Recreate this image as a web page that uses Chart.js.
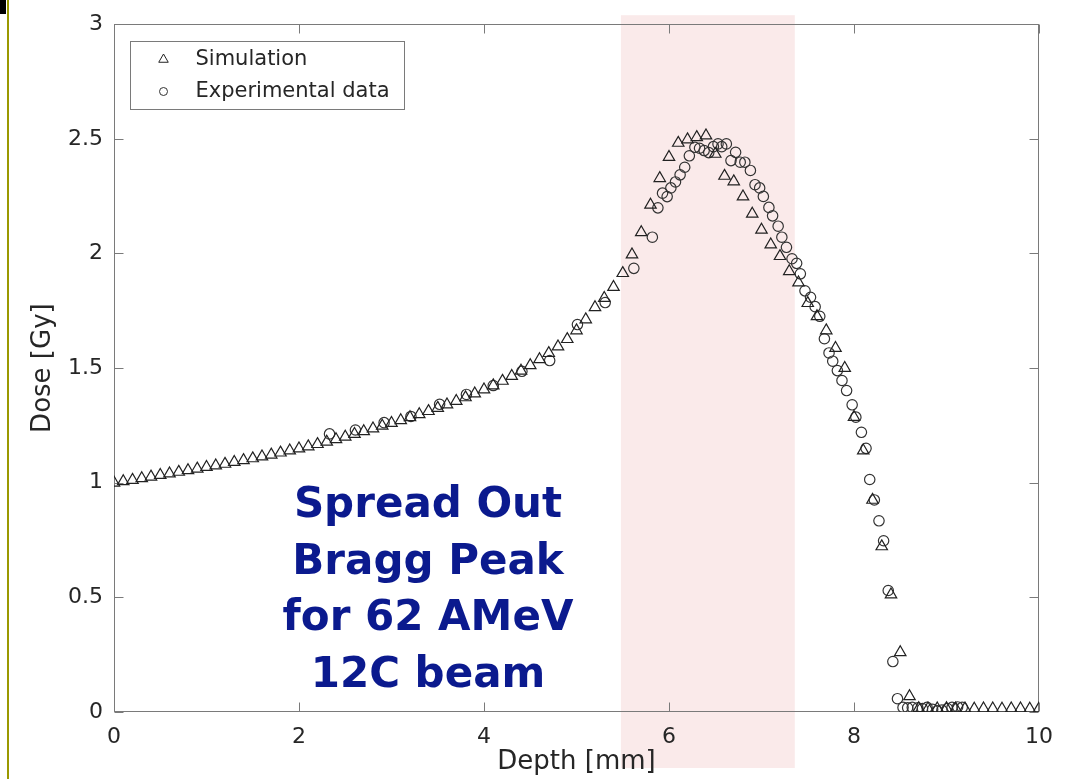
<!DOCTYPE html>
<html>
<head>
<meta charset="utf-8">
<script src="https://cdn.jsdelivr.net/npm/chart.js@4/dist/chart.umd.min.js"></script>
<style>
  body { margin: 0; background: #ffffff; }
  #wrap { position: relative; width: 1065px; height: 779px; overflow: hidden; background: #ffffff; }
  #chart { position: absolute; left: 0; top: 0; }
  .edge { position: absolute; left: 7px; top: 0; width: 2px; height: 779px; background: #9a9800; }
  .corner { position: absolute; left: 0; top: 0; width: 6px; height: 14px; background: #000000; }
  .note {
    position: absolute; left: 228px; top: 475px; width: 400px;
    text-align: center; font-family: "DejaVu Sans", sans-serif; font-weight: bold;
    font-size: 42px; line-height: 56.5px; color: #0b1a8e;
  }
</style>
</head>
<body>
<div id="wrap">
  <canvas id="chart" width="1065" height="779"></canvas>
  <div class="edge"></div>
  <div class="corner"></div>
  <div class="note">Spread Out<br>Bragg Peak<br>for 62 AMeV<br>12C beam</div>
</div>
<script>
// simulation: depth [mm] and dose [Gy]
const simDepth = [
  0.0, 0.1, 0.2, 0.3, 0.4, 0.5, 0.6, 0.7, 0.8, 0.9,
  1.0, 1.1, 1.2, 1.3, 1.4, 1.5, 1.6, 1.7, 1.8, 1.9,
  2.0, 2.1, 2.2, 2.3, 2.4, 2.5, 2.6, 2.7, 2.8, 2.9,
  3.0, 3.1, 3.2, 3.3, 3.4, 3.5, 3.6, 3.7, 3.8, 3.9,
  4.0, 4.1, 4.2, 4.3, 4.4, 4.5, 4.6, 4.7, 4.8, 4.9,
  5.0, 5.1, 5.2, 5.3, 5.4, 5.5, 5.6, 5.7, 5.8, 5.9,
  6.0, 6.1, 6.2, 6.3, 6.4, 6.5, 6.6, 6.7, 6.8, 6.9,
  7.0, 7.1, 7.2, 7.3, 7.4, 7.5, 7.6, 7.7, 7.8, 7.9,
  8.0, 8.1, 8.2, 8.3, 8.4, 8.5, 8.6, 8.7, 8.8, 8.9,
  9.0, 9.1, 9.2, 9.3, 9.4, 9.5, 9.6, 9.7, 9.8, 9.9,
  10.0
];
const simDose = [
  1.000, 1.006, 1.012, 1.019, 1.026, 1.033, 1.040, 1.047, 1.054, 1.061,
  1.068, 1.075, 1.082, 1.090, 1.098, 1.106, 1.114, 1.122, 1.131, 1.140,
  1.149, 1.158, 1.168, 1.178, 1.189, 1.200, 1.212, 1.224, 1.236, 1.248,
  1.260, 1.272, 1.285, 1.298, 1.312, 1.326, 1.341, 1.356, 1.372, 1.389,
  1.406, 1.424, 1.444, 1.465, 1.488, 1.512, 1.538, 1.565, 1.594, 1.626,
  1.664, 1.712, 1.765, 1.805, 1.853, 1.914, 1.995, 2.092, 2.212, 2.328,
  2.420, 2.482, 2.497, 2.507, 2.514, 2.434, 2.338, 2.314, 2.248, 2.173,
  2.103, 2.039, 1.988, 1.922, 1.873, 1.783, 1.726, 1.664, 1.587, 1.500,
  1.286, 1.140, 0.925, 0.722, 0.512, 0.260, 0.068, 0.016, 0.015, 0.015,
  0.016, 0.015, 0.015, 0.014, 0.015, 0.015, 0.014, 0.015, 0.015, 0.014,
  0.015
];

// experimental data
const expDepth = [
  2.33, 2.61, 2.92, 3.21, 3.52, 3.81, 4.10, 4.41, 4.71, 5.01,
  5.31, 5.62, 5.82, 5.88, 5.93, 5.98, 6.02, 6.07, 6.12, 6.17,
  6.22, 6.28, 6.33, 6.38, 6.43, 6.48, 6.53, 6.57, 6.62, 6.67,
  6.72, 6.77, 6.82, 6.88, 6.93, 6.98, 7.02, 7.08, 7.12, 7.18,
  7.22, 7.27, 7.33, 7.38, 7.42, 7.47, 7.53, 7.58, 7.63, 7.68,
  7.73, 7.77, 7.82, 7.87, 7.92, 7.98, 8.02, 8.08, 8.13, 8.17,
  8.22, 8.27, 8.32, 8.37, 8.42, 8.47, 8.53, 8.58, 8.63, 8.69,
  8.74, 8.79, 8.85, 8.90, 8.95, 9.01, 9.06, 9.12, 9.17
];
const expDose = [
  1.213, 1.230, 1.262, 1.289, 1.342, 1.385, 1.424, 1.486, 1.533, 1.690,
  1.786, 1.935, 2.071, 2.199, 2.263, 2.248, 2.286, 2.312, 2.343, 2.376,
  2.426, 2.463, 2.459, 2.449, 2.440, 2.466, 2.478, 2.466, 2.478, 2.405,
  2.441, 2.398, 2.398, 2.362, 2.300, 2.286, 2.249, 2.201, 2.164, 2.119,
  2.071, 2.027, 1.977, 1.957, 1.911, 1.837, 1.809, 1.768, 1.726, 1.628,
  1.566, 1.530, 1.489, 1.446, 1.402, 1.340, 1.286, 1.220, 1.150, 1.014,
  0.925, 0.834, 0.747, 0.530, 0.220, 0.058, 0.020, 0.018, 0.020, 0.018,
  0.015, 0.020, 0.012, 0.005, 0.008, 0.015, 0.020, 0.022, 0.020
];

const xTicks = [0, 2, 4, 6, 8, 10];
const yTicks = [0, 0.5, 1, 1.5, 2, 2.5, 3];

// shaded SOBP band, in mm
const bandStart = 5.48;
const bandEnd = 7.36;

const axisColor = '#7a7a7a';
const textColor = '#262626';
const fontFamily = '"DejaVu Sans", sans-serif';

function toPoints(xs, ys) {
  return xs.map((x, i) => ({ x: x, y: ys[i] }));
}

function markerPath(ctx, style, cx, cy, r) {
  ctx.beginPath();
  if (style === 'triangle') {
    let a = 0;
    ctx.moveTo(cx + Math.sin(a) * r, cy - Math.cos(a) * r);
    a += 2 * Math.PI / 3;
    ctx.lineTo(cx + Math.sin(a) * r, cy - Math.cos(a) * r);
    a += 2 * Math.PI / 3;
    ctx.lineTo(cx + Math.sin(a) * r, cy - Math.cos(a) * r);
    ctx.closePath();
  } else {
    ctx.arc(cx, cy, r, 0, Math.PI * 2);
  }
}

const bandPlugin = {
  id: 'band',
  beforeDraw(chart) {
    const { ctx, chartArea, scales } = chart;
    const x0 = scales.x.getPixelForValue(bandStart);
    const x1 = scales.x.getPixelForValue(bandEnd);
    ctx.save();
    ctx.fillStyle = '#faeaea';
    ctx.fillRect(x0, chartArea.top - 9, x1 - x0, chartArea.bottom - chartArea.top + 65);
    ctx.restore();
  }
};

// matlab style box with inward ticks on all sides
const boxPlugin = {
  id: 'box',
  beforeDatasetsDraw(chart) {
    const { ctx, chartArea: a, scales } = chart;
    const L = Math.round(a.left) + 0.5, R = Math.round(a.right) - 0.5;
    const T = Math.round(a.top) + 0.5, B = Math.round(a.bottom) - 0.5;
    ctx.save();
    ctx.strokeStyle = axisColor;
    ctx.lineWidth = 1;
    ctx.strokeRect(L, T, R - L, B - T);
    ctx.beginPath();
    scales.x.ticks.forEach(t => {
      const px = Math.round(scales.x.getPixelForValue(t.value)) + 0.5;
      ctx.moveTo(px, B); ctx.lineTo(px, B - 9);
      ctx.moveTo(px, T); ctx.lineTo(px, T + 9);
    });
    scales.y.ticks.forEach(t => {
      const py = Math.round(scales.y.getPixelForValue(t.value)) + 0.5;
      ctx.moveTo(L, py); ctx.lineTo(L + 9, py);
      ctx.moveTo(R, py); ctx.lineTo(R - 9, py);
    });
    ctx.stroke();
    ctx.restore();
  }
};

const legendPlugin = {
  id: 'boxLegend',
  afterDatasetsDraw(chart) {
    const { ctx, chartArea: a } = chart;
    const bx = Math.round(a.left) + 16.5, by = Math.round(a.top) + 17.5;
    ctx.save();
    ctx.fillStyle = '#ffffff';
    ctx.fillRect(bx, by, 274, 68);
    ctx.strokeStyle = axisColor;
    ctx.lineWidth = 1;
    ctx.strokeRect(bx, by, 274, 68);
    ctx.font = '21px ' + fontFamily;
    ctx.textBaseline = 'middle';
    ctx.textAlign = 'left';
    chart.data.datasets.forEach((ds, i) => {
      const cy = by + 18 + i * 32;
      ctx.strokeStyle = ds.borderColor;
      ctx.lineWidth = 1;
      markerPath(ctx, ds.pointStyle, bx + 33, cy, ds.pointStyle === 'triangle' ? 5.5 : 4);
      ctx.stroke();
      ctx.fillStyle = textColor;
      ctx.fillText(ds.label, bx + 65, cy);
    });
    ctx.restore();
  }
};

new Chart(document.getElementById('chart'), {
  type: 'scatter',
  data: {
    datasets: [
      {
        label: 'Simulation',
        data: toPoints(simDepth, simDose),
        pointStyle: 'triangle',
        pointRadius: 6.6,
        borderColor: '#222222',
        backgroundColor: 'rgba(0,0,0,0)',
        borderWidth: 1.2
      },
      {
        label: 'Experimental data',
        data: toPoints(expDepth, expDose),
        pointStyle: 'circle',
        pointRadius: 5.2,
        borderColor: '#333333',
        backgroundColor: 'rgba(0,0,0,0)',
        borderWidth: 1.2
      }
    ]
  },
  options: {
    responsive: false,
    animation: false,
    layout: { padding: { top: 23, right: 24, left: 0, bottom: 0 } },
    plugins: {
      legend: { display: false },
      tooltip: { enabled: false }
    },
    scales: {
      x: {
        type: 'linear',
        min: 0,
        max: 10,
        afterBuildTicks: s => { s.ticks = xTicks.map(v => ({ value: v })); },
        afterFit: s => { s.height = 67; },
        grid: { display: false, drawTicks: false },
        border: { display: false },
        ticks: {
          padding: 12, color: textColor, font: { family: fontFamily, size: 22 },
          callback: v => String(v)
        },
        title: {
          display: true,
          text: 'Depth [mm]',
          color: textColor,
          font: { family: fontFamily, size: 26 },
          padding: { top: 0, bottom: 1 }
        }
      },
      y: {
        type: 'linear',
        min: 0,
        max: 3,
        afterBuildTicks: s => { s.ticks = yTicks.map(v => ({ value: v })); },
        afterFit: s => { s.width = 114; },
        grid: { display: false, drawTicks: false },
        border: { display: false },
        ticks: {
          padding: 11, color: textColor, font: { family: fontFamily, size: 22 },
          callback: v => String(v)
        },
        title: {
          display: true,
          text: 'Dose [Gy]',
          color: textColor,
          font: { family: fontFamily, size: 26 },
          padding: { top: 28, bottom: 0 }
        }
      }
    }
  },
  plugins: [bandPlugin, boxPlugin, legendPlugin]
});
</script>
</body>
</html>
